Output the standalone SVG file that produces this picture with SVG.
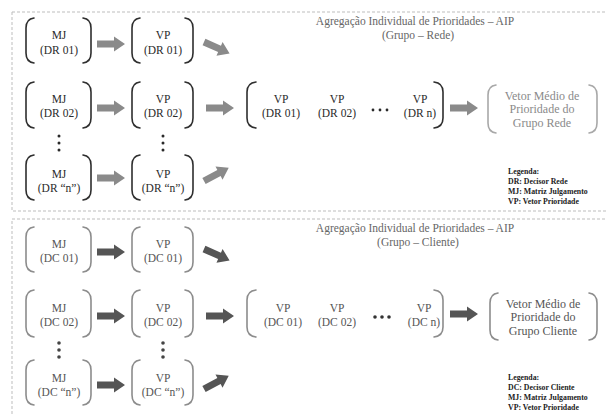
<svg xmlns="http://www.w3.org/2000/svg" width="607" height="415" viewBox="0 0 607 415" font-family="'Liberation Serif', 'DejaVu Serif', 'Times New Roman', serif">
<defs>
<style>
.panel{fill:none;stroke:#bdbdbd;stroke-width:1;stroke-dasharray:3 2}
.t{font-family:'Liberation Serif','DejaVu Serif','Times New Roman',serif;font-size:11.5px;text-anchor:middle}
.r{font-size:12px}
.dk{fill:#2a2a2a}
.md{fill:#555}
.lt{fill:#8a8a8a}
.bk{fill:none;stroke-width:1.6;stroke-linecap:round}
.bdk{stroke:#2e2e2e}
.bmd{stroke:#8c8c8c}
.blt{stroke:#a8a8a8}
.title{font-family:'Liberation Serif','DejaVu Serif','Times New Roman',serif;font-size:11.5px;text-anchor:middle;fill:#666}
.leg{font-family:'Liberation Serif','DejaVu Serif','Times New Roman',serif;font-size:7.8px;font-weight:bold;fill:#222}
.a1{fill:#8a8a8a}
.a2{fill:#555}
</style>
<polygon id="arr" points="0,-3.5 17,-3.5 17,-7.5 28,0 17,7.5 17,3.5 0,3.5"/>
</defs>

<rect class="panel" x="12" y="12" width="600" height="199"/>
<rect class="panel" x="12" y="219" width="600" height="210"/>

<!-- Top panel -->
<g id="title-top">
<text class="title" x="415" y="25">Agregação Individual de Prioridades – AIP</text>
<text class="title" x="418" y="38.5">(Grupo – Rede)</text>
</g>

<g id="mj-dr01">
<path class="bk bdk" d="M34,18 Q26,19 26,28 L26,53 Q26,62 34,63"/>
<path class="bk bdk" d="M83,18 Q91,19 91,28 L91,53 Q91,62 83,63"/>
<text class="t dk" x="59" y="39">MJ</text>
<text class="t dk" x="59" y="54">(DR 01)</text>
</g>
<g id="vp-dr01">
<path class="bk bdk" d="M140,18 Q132,19 132,28 L132,53 Q132,62 140,63"/>
<path class="bk bdk" d="M185,18 Q193,19 193,28 L193,53 Q193,62 185,63"/>
<text class="t dk" x="163" y="39">VP</text>
<text class="t dk" x="163" y="54">(DR 01)</text>
</g>
<g id="mj-dr02">
<path class="bk bdk" d="M34,82 Q26,83 26,92 L26,118 Q26,127 34,128"/>
<path class="bk bdk" d="M83,82 Q91,83 91,92 L91,118 Q91,127 83,128"/>
<text class="t dk" x="59" y="103">MJ</text>
<text class="t dk" x="59" y="117">(DR 02)</text>
</g>
<g id="vp-dr02">
<path class="bk bdk" d="M140,82 Q132,83 132,92 L132,118 Q132,127 140,128"/>
<path class="bk bdk" d="M185,82 Q193,83 193,92 L193,118 Q193,127 185,128"/>
<text class="t dk" x="163" y="103">VP</text>
<text class="t dk" x="163" y="117">(DR 02)</text>
</g>
<g id="dots-top" fill="#2a2a2a">
<circle cx="59" cy="136" r="1.5"/><circle cx="59" cy="143" r="1.5"/><circle cx="59" cy="150" r="1.5"/>
<circle cx="163" cy="136" r="1.5"/><circle cx="163" cy="143" r="1.5"/><circle cx="163" cy="150" r="1.5"/>
</g>
<g id="mj-drn">
<path class="bk bdk" d="M34,155 Q26,156 26,165 L26,190 Q26,199 34,200"/>
<path class="bk bdk" d="M83,155 Q91,156 91,165 L91,190 Q91,199 83,200"/>
<text class="t dk" x="59" y="178">MJ</text>
<text class="t dk" x="59" y="192">(DR “n”)</text>
</g>
<g id="vp-drn">
<path class="bk bdk" d="M140,155 Q132,156 132,165 L132,190 Q132,199 140,200"/>
<path class="bk bdk" d="M185,155 Q193,156 193,165 L193,190 Q193,199 185,200"/>
<text class="t dk" x="163" y="178">VP</text>
<text class="t dk" x="163" y="192">(DR “n”)</text>
</g>
<g id="vp-set-dr">
<path class="bk bdk" d="M256,82 Q247,83 247,92 L247,118 Q247,127 256,128"/>
<path class="bk bdk" d="M434,82 Q443,83 443,92 L443,118 Q443,127 434,128"/>
<text class="t dk" x="281" y="103">VP</text>
<text class="t dk" x="281" y="117">(DR 01)</text>
<text class="t dk" x="337" y="103">VP</text>
<text class="t dk" x="337" y="117">(DR 02)</text>
<g fill="#2a2a2a"><circle cx="373" cy="110" r="1.4"/><circle cx="380" cy="110" r="1.4"/><circle cx="387" cy="110" r="1.4"/></g>
<text class="t dk" x="420" y="103">VP</text>
<text class="t dk" x="420" y="117">(DR n)</text>
</g>
<g id="vetor-rede">
<path class="bk blt" d="M496,85 Q488,86 488,95 L488,123 Q488,132 496,133"/>
<path class="bk blt" d="M589,85 Q597,86 597,95 L597,123 Q597,132 589,133"/>
<text class="t r lt" x="542" y="100">Vetor  Médio de</text>
<text class="t r lt" x="542" y="113">Prioridade do</text>
<text class="t r lt" x="542" y="127">Grupo Rede</text>
</g>
<g id="legend-top">
<text class="leg" x="508" y="174">Legenda:</text>
<text class="leg" x="508" y="184">DR: Decisor Rede</text>
<text class="leg" x="508" y="194">MJ: Matriz Julgamento</text>
<text class="leg" x="508" y="204">VP: Vetor Prioridade</text>
</g>

<!-- Bottom panel -->
<g id="title-bottom">
<text class="title" x="415" y="232">Agregação Individual de Prioridades – AIP</text>
<text class="title" x="418" y="245.5">(Grupo – Cliente)</text>
</g>
<g id="mj-dc01">
<path class="bk bmd" d="M34,227 Q26,228 26,237 L26,262 Q26,271 34,272"/>
<path class="bk bmd" d="M83,227 Q91,228 91,237 L91,262 Q91,271 83,272"/>
<text class="t md" x="59" y="248">MJ</text>
<text class="t md" x="59" y="262">(DC 01)</text>
</g>
<g id="vp-dc01">
<path class="bk bmd" d="M140,227 Q132,228 132,237 L132,262 Q132,271 140,272"/>
<path class="bk bmd" d="M185,227 Q193,228 193,237 L193,262 Q193,271 185,272"/>
<text class="t md" x="163" y="248">VP</text>
<text class="t md" x="163" y="262">(DC 01)</text>
</g>
<g id="mj-dc02">
<path class="bk bmd" d="M34,290 Q26,291 26,300 L26,327 Q26,336 34,337"/>
<path class="bk bmd" d="M83,290 Q91,291 91,300 L91,327 Q91,336 83,337"/>
<text class="t md" x="59" y="312">MJ</text>
<text class="t md" x="59" y="326">(DC 02)</text>
</g>
<g id="vp-dc02">
<path class="bk bmd" d="M140,290 Q132,291 132,300 L132,327 Q132,336 140,337"/>
<path class="bk bmd" d="M185,290 Q193,291 193,300 L193,327 Q193,336 185,337"/>
<text class="t md" x="163" y="312">VP</text>
<text class="t md" x="163" y="326">(DC 02)</text>
</g>
<g id="dots-bottom" fill="#444">
<circle cx="59" cy="343" r="1.8"/><circle cx="59" cy="350" r="1.8"/><circle cx="59" cy="357" r="1.8"/>
<circle cx="163" cy="343" r="1.8"/><circle cx="163" cy="350" r="1.8"/><circle cx="163" cy="357" r="1.8"/>
</g>
<g id="mj-dcn">
<path class="bk bmd" d="M34,360 Q26,361 26,370 L26,395 Q26,404 34,405"/>
<path class="bk bmd" d="M83,360 Q91,361 91,370 L91,395 Q91,404 83,405"/>
<text class="t md" x="59" y="382">MJ</text>
<text class="t md" x="59" y="396">(DC “n”)</text>
</g>
<g id="vp-dcn">
<path class="bk bmd" d="M140,360 Q132,361 132,370 L132,395 Q132,404 140,405"/>
<path class="bk bmd" d="M185,360 Q193,361 193,370 L193,395 Q193,404 185,405"/>
<text class="t md" x="163" y="382">VP</text>
<text class="t md" x="163" y="396">(DC “n”)</text>
</g>
<g id="vp-set-dc">
<path class="bk bmd" d="M256,290 Q247,291 247,300 L247,327 Q247,336 256,337"/>
<path class="bk bmd" d="M434,290 Q443,291 443,300 L443,327 Q443,336 434,337"/>
<text class="t md" x="283" y="312">VP</text>
<text class="t md" x="283" y="326">(DC 01)</text>
<text class="t md" x="337" y="312">VP</text>
<text class="t md" x="337" y="326">(DC 02)</text>
<g fill="#333"><circle cx="375" cy="317" r="1.8"/><circle cx="382" cy="317" r="1.8"/><circle cx="389" cy="317" r="1.8"/></g>
<text class="t md" x="424" y="312">VP</text>
<text class="t md" x="424" y="326">(DC n)</text>
</g>
<g id="vetor-cliente">
<path class="bk bmd" d="M498,293 Q490,294 490,303 L490,330 Q490,339 498,340"/>
<path class="bk bmd" d="M589,293 Q597,294 597,303 L597,330 Q597,339 589,340"/>
<text class="t r md" x="543" y="308">Vetor  Médio de</text>
<text class="t r md" x="543" y="321">Prioridade do</text>
<text class="t r md" x="543" y="335">Grupo Cliente</text>
</g>
<g id="legend-bottom">
<text class="leg" x="508" y="380">Legenda:</text>
<text class="leg" x="508" y="390">DC: Decisor Cliente</text>
<text class="leg" x="508" y="400">MJ: Matriz Julgamento</text>
<text class="leg" x="508" y="410">VP: Vetor Prioridade</text>
</g>

<g id="connectors">
<use href="#arr" class="a1" transform="translate(97,44)"/>
<use href="#arr" class="a1" transform="translate(204,42) rotate(24)"/>
<use href="#arr" class="a1" transform="translate(97,108)"/>
<use href="#arr" class="a1" transform="translate(206,108)"/>
<use href="#arr" class="a1" transform="translate(97,178)"/>
<use href="#arr" class="a1" transform="translate(204,181) rotate(-28)"/>
<use href="#arr" class="a1" transform="translate(450,108)"/>

<use href="#arr" class="a2" transform="translate(97,252)"/>
<use href="#arr" class="a2" transform="translate(204,249) rotate(24)"/>
<use href="#arr" class="a2" transform="translate(97,316)"/>
<use href="#arr" class="a2" transform="translate(206,316)"/>
<use href="#arr" class="a2" transform="translate(97,385)"/>
<use href="#arr" class="a2" transform="translate(204,389) rotate(-28)"/>
<use href="#arr" class="a2" transform="translate(450,314)"/>
</g>
</svg>
